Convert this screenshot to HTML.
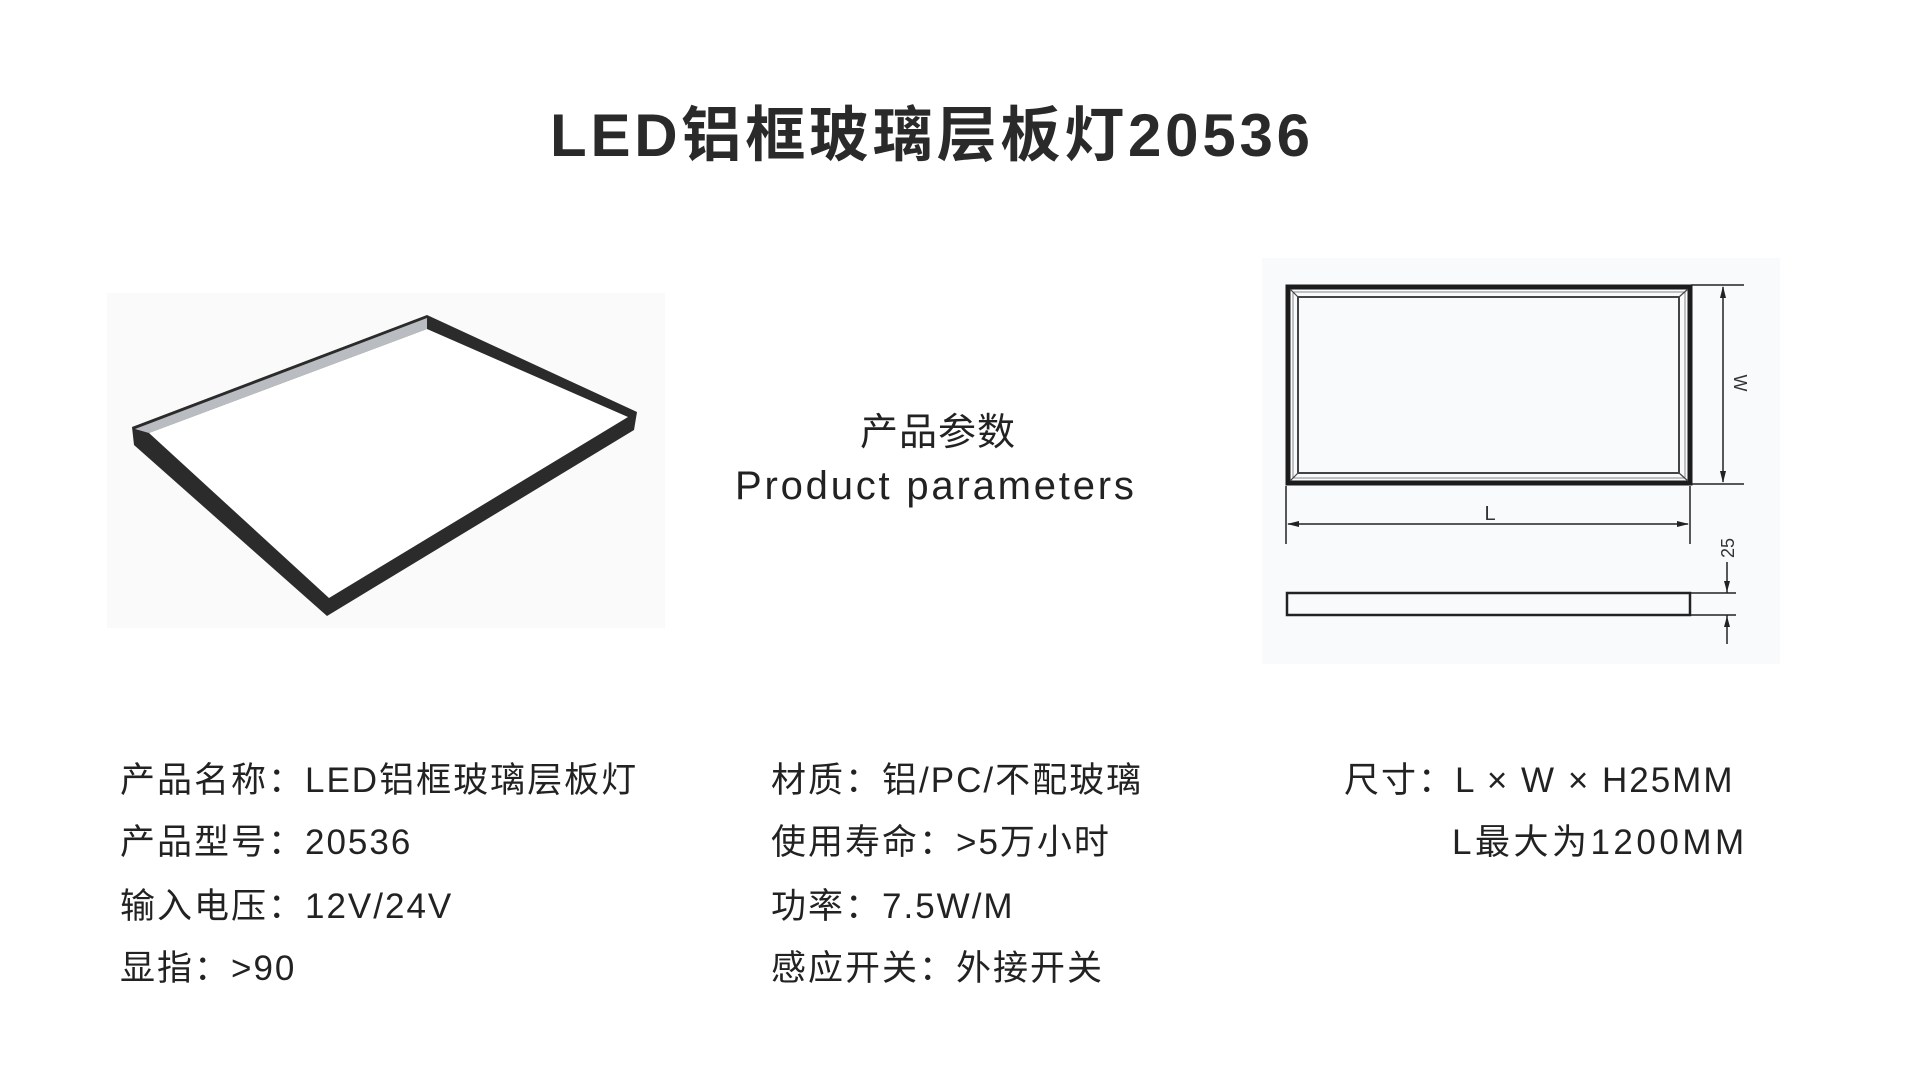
<!DOCTYPE html>
<html><head><meta charset="utf-8"><style>
html,body{margin:0;padding:0;background:#fff;}
body{width:1920px;height:1080px;position:relative;overflow:hidden;font-family:"Liberation Sans","Noto Sans CJK SC",sans-serif;color:#222;}
.t{position:absolute;white-space:nowrap;line-height:1;}
.row{font-size:35px;letter-spacing:2px;}
</style></head><body>
<div class="t" style="left:550px;top:106px;font-size:60px;font-weight:bold;letter-spacing:3.8px;color:#2a2a2a;">LED铝框玻璃层板灯20536</div>

<svg style="position:absolute;left:0;top:0" width="1920" height="1080">
  <rect x="107" y="293" width="558" height="335" fill="#fafafa"/>
  <polygon points="132,427 427,315 637,412 634,430 327,616 134,445" fill="#2b2b2b"/>
  <polygon points="135,429 427,318 427,329 149,433" fill="#b9bcc0"/>
  <polygon points="149,433 427,329 628,417 329,598" fill="#ffffff"/>
  <rect x="1262" y="258" width="518" height="406" fill="#f9fafc"/>
  <rect x="1288" y="287" width="402" height="196" fill="none" stroke="#1c1c1c" stroke-width="5"/>
  <rect x="1298" y="297" width="381" height="176" fill="none" stroke="#444" stroke-width="2"/>
  <rect x="1293" y="292" width="392" height="186" fill="none" stroke="#888" stroke-width="1"/>
  <g stroke="#444" stroke-width="1.2">
    <line x1="1290" y1="289" x2="1298" y2="297"/><line x1="1688" y1="289" x2="1679" y2="297"/>
    <line x1="1290" y1="481" x2="1298" y2="473"/><line x1="1688" y1="481" x2="1679" y2="473"/>
  </g>
  <g stroke="#222" stroke-width="1.5" fill="none">
    <line x1="1691" y1="285" x2="1744" y2="285"/><line x1="1691" y1="484" x2="1744" y2="484"/>
    <line x1="1723" y1="287" x2="1723" y2="482"/>
    <line x1="1286" y1="486" x2="1286" y2="544"/><line x1="1690" y1="486" x2="1690" y2="544"/>
    <line x1="1288" y1="524" x2="1688" y2="524"/>
    <line x1="1691" y1="593" x2="1736" y2="593"/><line x1="1691" y1="615" x2="1736" y2="615"/>
    <line x1="1727" y1="562" x2="1727" y2="593"/><line x1="1727" y1="615" x2="1727" y2="644"/>
  </g>
  <g fill="#222">
    <polygon points="1723,286 1720,298 1726,298"/><polygon points="1723,483 1720,471 1726,471"/>
    <polygon points="1287,524 1299,521 1299,527"/><polygon points="1689,524 1677,521 1677,527"/>
    <polygon points="1727,592 1724,581 1730,581"/><polygon points="1727,616 1724,627 1730,627"/>
  </g>
  <rect x="1287" y="593" width="403" height="22" fill="none" stroke="#222" stroke-width="2.5"/>
  <text x="1490" y="520" font-family="Liberation Sans" font-size="20" fill="#333" text-anchor="middle">L</text>
  <text transform="translate(1734,383) rotate(90)" font-family="Liberation Sans" font-size="18" fill="#333" text-anchor="middle">W</text>
  <text transform="translate(1734,548) rotate(-90)" font-family="Liberation Sans" font-size="18" fill="#333" text-anchor="middle">25</text>
</svg>

<div class="t" style="left:860px;top:414px;font-size:38px;color:#222;letter-spacing:1px;">产品参数</div>
<div class="t" style="left:735px;top:466px;font-size:40px;color:#222;letter-spacing:2.8px;">Product parameters</div>

<div class="t row" style="left:120px;top:763px;">产品名称：LED铝框玻璃层板灯</div>
<div class="t row" style="left:120px;top:825px;">产品型号：20536</div>
<div class="t row" style="left:120px;top:889px;">输入电压：12V/24V</div>
<div class="t row" style="left:120px;top:951px;">显指：&gt;90</div>

<div class="t row" style="left:771px;top:763px;">材质：铝/PC/不配玻璃</div>
<div class="t row" style="left:771px;top:825px;">使用寿命：&gt;5万小时</div>
<div class="t row" style="left:771px;top:889px;">功率：7.5W/M</div>
<div class="t row" style="left:771px;top:951px;">感应开关：外接开关</div>

<div class="t row" style="left:1344px;top:763px;letter-spacing:2px;">尺寸：L × W × H25MM</div>
<div class="t row" style="left:1452px;top:825px;letter-spacing:3.5px;">L最大为1200MM</div>
</body></html>
